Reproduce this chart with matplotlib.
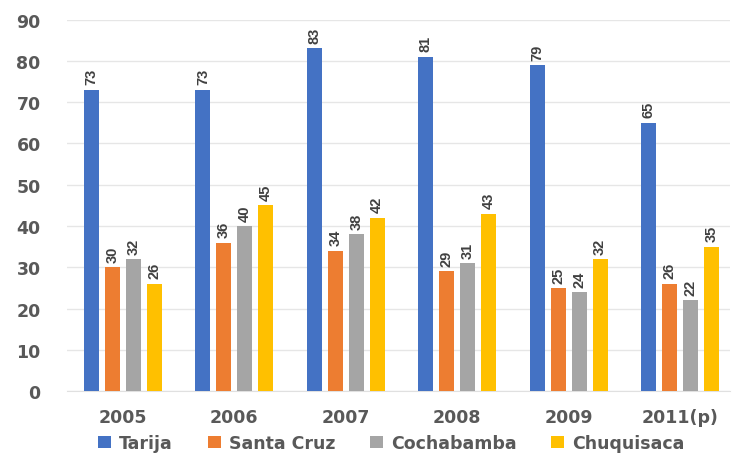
import matplotlib.pyplot as plt
import numpy as np

years = ['2005', '2006', '2007', '2008', '2009', '2011(p)']
series = ['Tarija', 'Santa Cruz', 'Cochabamba', 'Chuquisaca']
tarija = [73, 73, 83, 81, 79, 65]
santa_cruz = [30, 36, 34, 29, 25, 26]
cochabamba = [32, 40, 38, 31, 24, 22]
chuquisaca = [26, 45, 42, 43, 32, 35]
colors = ['#4472C4', '#ED7D31', '#A5A5A5', '#FFC000']

fig = plt.figure(figsize=(7.37, 4.56), dpi=100)
ax = fig.add_axes([0.091, 0.14, 0.90, 0.815])

x = np.arange(len(years))
step = 0.1875
width = 0.134
for i, (name, vals) in enumerate(zip(series, [tarija, santa_cruz, cochabamba, chuquisaca])):
    pos = x + (i - 1.5) * step
    bars = ax.bar(pos, vals, width, color=colors[i], label=name, zorder=3)
    for b, v in zip(bars, vals):
        ax.text(b.get_x() + b.get_width() / 2, v + 1.3, str(v), rotation=90,
                ha='center', va='bottom', fontsize=10.5, color='#404040',
                fontweight='bold', family='Liberation Sans')

ax.set_ylim(0, 90)
ax.set_xlim(-0.5, 5.45)
ax.set_yticks(range(0, 91, 10))
ax.set_xticks(x)
ax.set_xticklabels(years)
ax.yaxis.grid(True, color='#e6e6e6', linewidth=1, zorder=0)
ax.tick_params(length=0, labelsize=12.5, labelcolor='#595959')
ax.tick_params(axis='x', pad=12)
ax.tick_params(axis='y', pad=19)
for lbl in ax.get_xticklabels() + ax.get_yticklabels():
    lbl.set_fontweight('bold')
for s in ['top', 'right', 'left']:
    ax.spines[s].set_visible(False)
ax.spines['bottom'].set_color('#e0e0e0')

leg = fig.legend(loc='lower center', ncol=4, frameon=False, bbox_to_anchor=(0.531, -0.028),
                 handlelength=0.75, handleheight=0.75, columnspacing=2.0, handletextpad=0.45,
                 prop={'weight': 'bold', 'size': 12.5})
for t in leg.get_texts():
    t.set_color('#595959')

fig.savefig('out.png', dpi=100)
